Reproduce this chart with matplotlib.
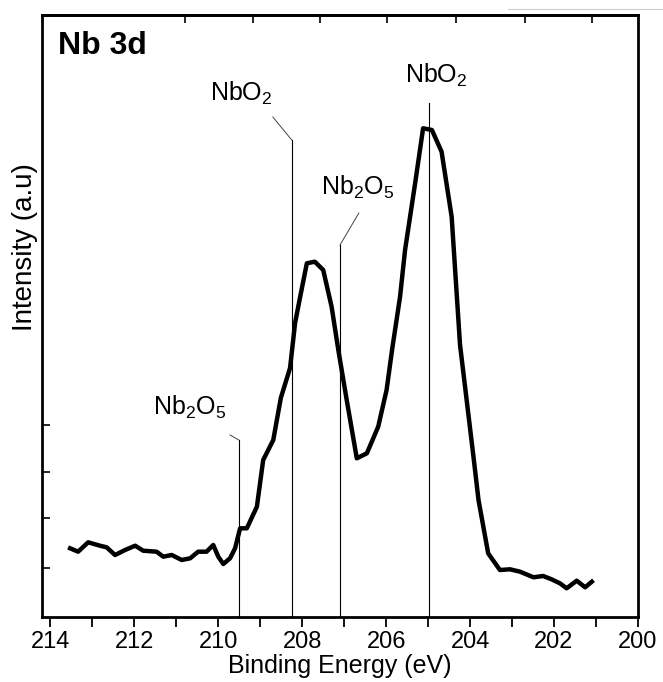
import numpy as np
import matplotlib
matplotlib.use("Agg")
import matplotlib.pyplot as plt
from matplotlib.lines import Line2D

plt.rcParams['font.family'] = ['Liberation Sans', 'DejaVu Sans']
plt.rcParams['mathtext.fontset'] = 'custom'
plt.rcParams['mathtext.rm'] = 'Liberation Sans'
plt.rcParams['mathtext.default'] = 'regular'

# Nb 3d spectrum (binding energy in eV, intensity in a.u.)
energy = [213.53, 213.34, 213.10, 212.82, 212.66, 212.46, 212.22, 211.98, 211.79,
          211.47, 211.31, 211.11, 210.87, 210.67, 210.48, 210.28, 210.12, 210.00,
          209.88, 209.72, 209.60, 209.48, 209.32, 209.08, 208.93, 208.69, 208.51,
          208.29, 208.17, 208.05, 207.89, 207.70, 207.50, 207.30, 207.14, 206.94,
          206.70, 206.46, 206.19, 205.99, 205.86, 205.67, 205.55, 205.31, 205.12,
          204.91, 204.68, 204.44, 204.24, 203.92, 203.80, 203.57, 203.29, 203.05,
          202.81, 202.49, 202.26, 202.06, 201.86, 201.70, 201.46, 201.26, 201.10]
intensity = [68.7, 65.3, 74.7, 71.3, 69.7, 62.0, 67.0, 71.3, 66.3,
             65.3, 60.3, 62.0, 57.0, 58.7, 65.3, 65.3, 72.0, 60.3,
             53.0, 58.7, 68.7, 88.7, 88.7, 110.3, 157.0, 177.0, 219.0,
             249.0, 294.0, 320.0, 353.7, 355.3, 347.0, 310.3, 267.0, 217.0,
             158.7, 163.7, 190.3, 227.0, 267.0, 320.0, 367.0, 433.7, 488.7,
             487.0, 465.3, 400.3, 272.0, 160.3, 117.0, 63.7, 47.0, 47.7,
             45.3, 39.7, 41.0, 37.7, 33.7, 28.7, 36.3, 29.7, 35.3]

# peak assignments: label, line energy, line top, label anchor (x, y)
peak_labels = [r'Nb$_2$O$_5$', r'NbO$_2$', r'Nb$_2$O$_5$', r'NbO$_2$']
peak_energy = [209.51, 208.25, 207.10, 204.97]
peak_top = [177, 477, 372, 514]
elbow = [(209.72, 182), (208.70, 500), (206.65, 404), None]
label_pos = [(210.67, 202), (209.46, 516), (206.67, 422), (204.81, 534)]

xticks = [214, 212, 210, 208, 206, 204, 202, 200]
xminor = [213, 211, 209, 207, 205, 203, 201]
top_ticks = [210.8, 209.18, 207.58, 205.98, 204.33, 202.7, 201.1]
left_ticks = [49, 99, 145, 192]

fig = plt.figure(figsize=(6.63, 6.82), dpi=100)
ax = fig.add_axes([42 / 663, 1 - 617 / 682, 596 / 663, 602 / 682])

ax.plot(energy, intensity, color='black', lw=3.2, solid_joinstyle='round')

for lab, e, top, elb, pos in zip(peak_labels, peak_energy, peak_top, elbow, label_pos):
    ax.plot([e, e], [0, top], color='black', lw=0.8)
    if elb is not None:
        ax.plot([e, elb[0]], [top, elb[1]], color='#444444', lw=0.7)
    ax.text(pos[0], pos[1], lab, fontsize=18, ha='center', va='baseline')

ax.text(0.027, 0.948, 'Nb 3d', transform=ax.transAxes, fontsize=23,
        fontweight='bold', ha='left', va='center')

ax.set_xlim(214.2, 200)
ax.set_ylim(0, 602)
ax.set_xticks(xticks)
ax.set_xticks(xminor, minor=True)
ax.tick_params(axis='x', which='both', direction='out', length=7, width=1.3,
               labelsize=17, pad=3)
ax.set_yticks(left_ticks)
ax.set_yticklabels([])
ax.tick_params(axis='y', direction='in', length=6, width=1.2)

top = ax.secondary_xaxis('top')
top.set_xticks(top_ticks)
top.tick_params(direction='in', length=6, width=1.2, labeltop=False)
top.spines['top'].set_linewidth(2.0)

for s in ax.spines.values():
    s.set_linewidth(2.0)

ax.set_xlabel('Binding Energy (eV)', fontsize=18, labelpad=1)
fig.text(25 / 663, 1 - 247 / 682, 'Intensity (a.u)', rotation=90, fontsize=20,
         ha='center', va='center')

fig.add_artist(Line2D([508 / 663, 1.0], [1 - 9 / 682] * 2, color='#cccccc', lw=0.8))

fig.savefig('out.png', dpi=100)
